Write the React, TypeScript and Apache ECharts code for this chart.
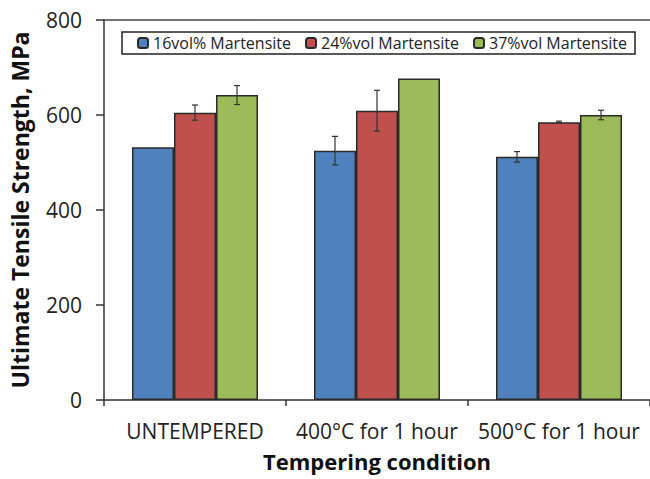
import React, { useEffect, useRef } from "react";
import * as echarts from "echarts";

const categories = ["UNTEMPERED", "400°C for 1 hour", "500°C for 1 hour"];
const seriesNames = ["16vol% Martensite", "24%vol Martensite", "37%vol Martensite"];
const values16 = [532, 525, 512];
const values24 = [605, 609, 585];
const values37 = [642, 677, 600];
const err16 = [0, 30, 11];
const err24 = [16, 43, 2];
const err37 = [20, 0, 10];
const yTicks = [0, 200, 400, 600, 800];
const colors = ["#4F81BD", "#C0504D", "#9BBB59"];

const FONT = "'Open Sans', 'Noto Sans', sans-serif";

export default function App() {
  const ref = useRef<HTMLDivElement>(null);
  useEffect(() => {
    document.body.style.margin = "0";
    if (!ref.current) return;
    const chart = echarts.init(ref.current, null, { renderer: "svg" });
    const allValues = [values16, values24, values37];
    const allErr = [err16, err24, err37];
    const barW = 42;
    const bars = allValues.map((vals, i) => ({
      name: seriesNames[i],
      type: "bar",
      data: vals,
      barWidth: barW,
      barGap: "0%",
      itemStyle: { color: colors[i], borderColor: "#2a2a2a", borderWidth: 1.5 },
    }));
    const errSeries = allValues.map((vals, i) => ({
      type: "custom",
      name: "err" + i,
      data: vals.map((v, j) => [j, v, allErr[i][j]]),
      z: 10,
      renderItem: (params: any, api: any) => {
        const idx = api.value(0);
        const v = api.value(1);
        const e = api.value(2);
        if (!e) return { type: "group", children: [] };
        const off = (i - 1) * barW;
        const top = api.coord([idx, v + e]);
        const bot = api.coord([idx, v - e]);
        const x = top[0] + off;
        const cap = 3;
        const st = { stroke: "#333", lineWidth: 1.2 };
        return {
          type: "group",
          children: [
            { type: "line", shape: { x1: x, y1: top[1], x2: x, y2: bot[1] }, style: st },
            { type: "line", shape: { x1: x - cap, y1: top[1], x2: x + cap, y2: top[1] }, style: st },
            { type: "line", shape: { x1: x - cap, y1: bot[1], x2: x + cap, y2: bot[1] }, style: st },
          ],
        };
      },
    }));
    chart.setOption({
      animation: false,
      backgroundColor: "#ffffff",
      textStyle: { fontFamily: FONT },
      grid: { left: 95, top: 20, right: -7, bottom: 79, containLabel: false },
      legend: {
        data: seriesNames,
        left: 122,
        top: 32,
        orient: "horizontal",
        itemWidth: 10,
        itemHeight: 10,
        itemGap: 14,
        padding: [3, 8, 3, 15],
        borderColor: "#222",
        borderWidth: 1.5,
        textStyle: { fontFamily: FONT, fontSize: 16, color: "#222" },
      },
      xAxis: [
        {
          type: "category",
          data: categories,
          name: "Tempering condition",
          nameLocation: "middle",
          nameGap: 50,
          nameTextStyle: { fontFamily: FONT, fontSize: 22, fontWeight: "bold", color: "#111" },
          axisLine: { lineStyle: { color: "#333", width: 1.5 } },
          axisTick: { show: true, length: 6, lineStyle: { color: "#333", width: 1.5 } },
          axisLabel: {
            fontFamily: FONT,
            fontSize: 21,
            color: "#222",
            margin: 20,
            interval: 0,
            hideOverlap: false,
          },
        },
        {
          type: "category",
          data: categories,
          position: "top",
          axisLine: { show: true, lineStyle: { color: "#444", width: 1.5 } },
          axisTick: { show: false },
          axisLabel: { show: false },
        },
      ],
      yAxis: {
        type: "value",
        min: 0,
        max: 800,
        interval: 200,
        name: "Ultimate Tensile Strength, MPa",
        nameLocation: "middle",
        nameGap: 73,
        nameTextStyle: { fontFamily: FONT, fontSize: 23, fontWeight: "bold", color: "#111" },
        axisLine: { show: true, lineStyle: { color: "#333", width: 1.5 } },
        axisTick: { show: true, length: 8, lineStyle: { color: "#333", width: 1.5 } },
        axisLabel: {
          fontFamily: FONT,
          fontSize: 21,
          color: "#222",
          margin: 22,
          formatter: (v: number) => (yTicks.includes(v) ? String(v) : ""),
        },
        splitLine: { show: false },
      },
      series: [...bars, ...errSeries],
    });
    return () => chart.dispose();
  }, []);
  return <div ref={ref} style={{ width: 650, height: 479 }} />;
}
